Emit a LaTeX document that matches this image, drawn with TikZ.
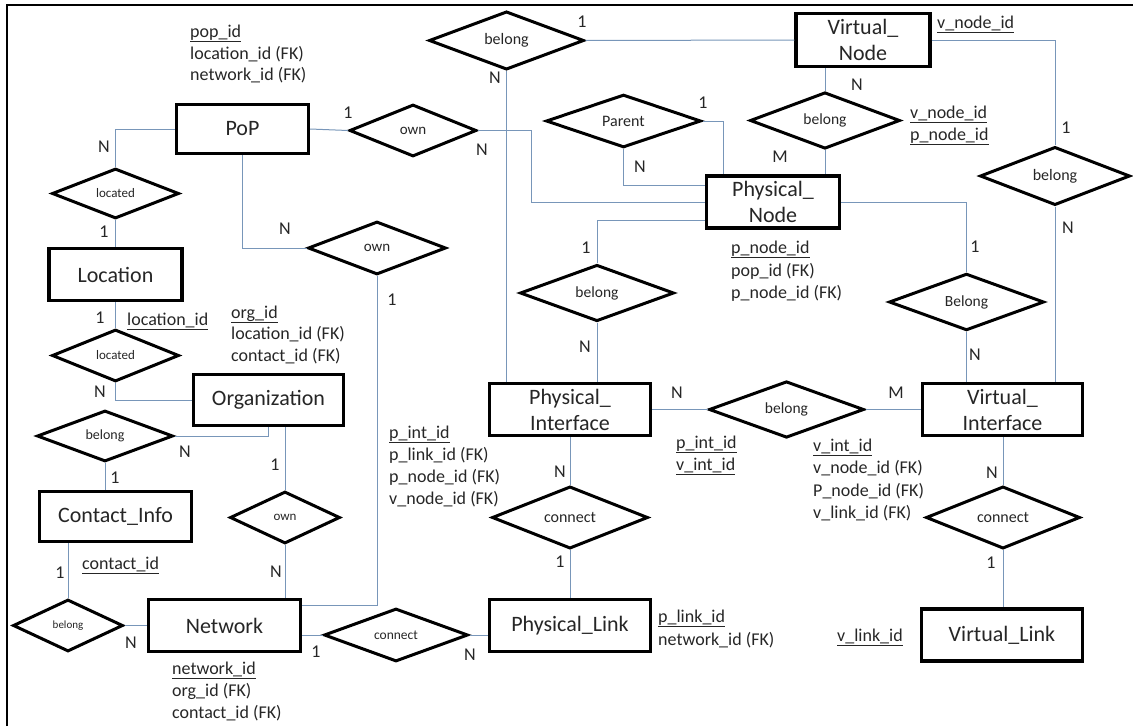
\documentclass[tikz,border=0pt]{standalone}
\usepackage{fontspec}
\setmainfont{Carlito}
\usetikzlibrary{shapes.geometric,calc}
\definecolor{linkc}{RGB}{120,150,185}
\definecolor{txt}{RGB}{38,38,38}
\tikzset{
 ent/.style={draw, line width=3.3pt, fill=white, align=center, inner sep=0pt, font=\fontsize{22}{26}\selectfont, text=txt},
 rel/.style={diamond, aspect=1, draw, line width=3pt, fill=white, inner sep=0pt, text=txt},
 lnk/.style={draw=linkc, line width=1pt},
 card/.style={font=\fontsize{18}{20}\selectfont, text=txt, inner sep=0pt},
 attr/.style={font=\fontsize{18}{22}\selectfont, text=txt, anchor=base west, inner sep=0pt, yshift=-6pt},
}
\begin{document}
\begin{tikzpicture}[x=1pt,y=-1pt]
\useasboundingbox (0,0) rectangle (1133,726);
\draw[line width=1.8pt] (7,726) -- (7,5) -- (1133,5);

% entities
\node[ent, minimum width=132pt, minimum height=49pt] (pop) at (242.5,129) {PoP};
\node[ent, minimum width=133pt, minimum height=52pt] (loc) at (115.5,274.5) {Location};
\node[ent, minimum width=150pt, minimum height=51pt] (org) at (268.5,400) {Organization};
\node[ent, minimum width=152pt, minimum height=50pt] (ci) at (115.5,516.5) {Contact\_Info};
\node[ent, minimum width=152pt, minimum height=52pt] (nw) at (224.5,625.5) {Network};
\node[ent, minimum width=161pt, minimum height=52pt] (pl) at (570,625.5) {Physical\_Link};
\node[ent, minimum width=161pt, minimum height=52pt] (vl) at (1002,635) {Virtual\_Link};
\node[ent, minimum width=161pt, minimum height=52pt] (pi) at (570,409.5) {Physical\_\\Interface};
\node[ent, minimum width=160pt, minimum height=52pt] (vi) at (1002.5,409.5) {Virtual\_\\Interface};
\node[ent, minimum width=133pt, minimum height=52pt] (pn) at (773,202) {Physical\_\\Node};
\node[ent, minimum width=134pt, minimum height=53pt] (vn) at (863,40) {Virtual\_\\Node};

% relationships
\node[rel, minimum width=127pt, minimum height=50pt, font=\fontsize{13}{15}\selectfont] (loc1) at (115.5,193.5) {located};
\node[rel, minimum width=127pt, minimum height=52pt, font=\fontsize{13}{15}\selectfont] (loc2) at (115.5,355.5) {located};
\node[rel, minimum width=136pt, minimum height=51pt, font=\fontsize{14}{16}\selectfont] (belorg) at (105,436) {belong};
\node[rel, minimum width=110pt, minimum height=52pt, font=\fontsize{11}{13}\selectfont] (belci) at (68,625.5) {belong};
\node[rel, minimum width=110pt, minimum height=52pt, font=\fontsize{13}{15}\selectfont] (ownon) at (285,517.5) {own};
\node[rel, minimum width=138pt, minimum height=53pt, font=\fontsize{15}{17}\selectfont] (ownpn) at (377,248) {own};
\node[rel, minimum width=127pt, minimum height=52pt, font=\fontsize{15}{17}\selectfont] (ownpp) at (413,130.5) {own};
\node[rel, minimum width=155pt, minimum height=52pt, font=\fontsize{16}{18}\selectfont] (beltop) at (506.5,40.5) {belong};
\node[rel, minimum width=155pt, minimum height=51pt, font=\fontsize{16}{18}\selectfont] (parent) at (623.5,121) {Parent};
\node[rel, minimum width=150pt, minimum height=52pt, font=\fontsize{15.5}{18}\selectfont] (belvn) at (825,120.5) {belong};
\node[rel, minimum width=150pt, minimum height=51pt, font=\fontsize{16}{18}\selectfont] (belr) at (1055,176) {belong};
\node[rel, minimum width=154pt, minimum height=51pt, font=\fontsize{15.5}{18}\selectfont] (belppi) at (597,293) {belong};
\node[rel, minimum width=155pt, minimum height=51pt, font=\fontsize{15.5}{18}\selectfont] (belcap) at (966.5,302) {Belong};
\node[rel, minimum width=155pt, minimum height=52pt, font=\fontsize{15.5}{18}\selectfont] (belpivi) at (786.5,409.5) {belong};
\node[rel, minimum width=156pt, minimum height=52pt, font=\fontsize{16}{18}\selectfont] (conp) at (570,517.5) {connect};
\node[rel, minimum width=154pt, minimum height=50pt, font=\fontsize{16}{18}\selectfont] (conv) at (1003,517.5) {connect};
\node[rel, minimum width=144pt, minimum height=53pt, font=\fontsize{13.5}{16}\selectfont] (conn) at (396,635) {connect};

\coordinate (nwin) at (302,605);

% connectors
\path[lnk] (pop.west) -| (loc1.north);
\path[lnk] (loc1.south) -- (loc.north);
\path[lnk] (loc.south) -- (loc2.north);
\path[lnk] (loc2.south) |- (org.west);
\path[lnk] (belorg.east) -| (org.south);
\path[lnk] (ownon.north) -- (ownon.north |- org.south);
\path[lnk] (belorg.south) -- (belorg.south |- ci.north);
\path[lnk] (belci.north) -- (belci.north |- ci.south);
\path[lnk] (belci.east) -- (nw.west);
\path[lnk] (ownon.south) -- (ownon.south |- nw.north);
\path[lnk] (ownpn.south) |- (nwin);
\path[lnk] (pop.south) |- (ownpn.west);
\path[lnk] (pop.east) -- (ownpp.west);
\path[lnk] (ownpp.east) -- ++(53,0) |- (pn.west);
\path[lnk] (beltop.east) -- (vn.west);
\path[lnk] (beltop.south) -- (beltop.south |- pi.north);
\path[lnk] (parent.east) -| ($(pn.north west)+(19,0)$);
\path[lnk] (parent.south) |- ($(pn.west)+(0,-17)$);
\path[lnk] (belvn.north) -- (belvn.north |- vn.south);
\path[lnk] (belvn.south) -- (belvn.south |- pn.north);
\path[lnk] (vn.east) -| (belr.north);
\path[lnk] (belr.south) -- (belr.south |- vi.north);
\path[lnk] ($(pn.west)+(0,18)$) -| (belppi.north);
\path[lnk] (belppi.south) -- (belppi.south |- pi.north);
\path[lnk] (pn.east) -| (belcap.north);
\path[lnk] (belcap.south) -- (belcap.south |- vi.north);
\path[lnk] (pi.east) -- (belpivi.west);
\path[lnk] (belpivi.east) -- (vi.west);
\path[lnk] (pi.south) -- (conp.north);
\path[lnk] (conp.south) -- (pl.north);
\path[lnk] (conv.north) -- (conv.north |- vi.south);
\path[lnk] (conv.south) -- (conv.south |- vl.north);
\path[lnk] (nw.east |- conn.west) -- (conn.west);
\path[lnk] (conn.east) -- (conn.east -| pl.west);

% cardinalities
\node[card] (c1) at (104,147) {N};
\node[card] (c2) at (104,232) {1};
\node[card] (c3) at (100,318) {1};
\node[card] (c4) at (100,392) {N};
\node[card] (c5) at (185,452) {N};
\node[card] (c6) at (275,465) {1};
\node[card] (c7) at (115,478) {1};
\node[card] (c8) at (60,573) {1};
\node[card] (c9) at (131,643) {N};
\node[card] (c10) at (276,572) {N};
\node[card] (c11) at (392,300) {1};
\node[card] (c12) at (285,229) {N};
\node[card] (c13) at (348,113) {1};
\node[card] (c14) at (482,150) {N};
\node[card] (c15) at (582,22) {1};
\node[card] (c16) at (495,78) {N};
\node[card] (c17) at (703,103) {1};
\node[card] (c18) at (640,167) {N};
\node[card] (c19) at (857,85) {N};
\node[card] (c20) at (780,157) {M};
\node[card] (c21) at (1066,128) {1};
\node[card] (c22) at (1068,228) {N};
\node[card] (c23) at (586,248) {1};
\node[card] (c24) at (585,347) {N};
\node[card] (c25) at (975,247) {1};
\node[card] (c26) at (975,355) {N};
\node[card] (c27) at (677,393) {N};
\node[card] (c28) at (896,393) {M};
\node[card] (c29) at (560,472) {N};
\node[card] (c30) at (560,562) {1};
\node[card] (c31) at (992,473) {N};
\node[card] (c32) at (991,563) {1};
\node[card] (c33) at (316,652) {1};
\node[card] (c34) at (470,655) {N};

% attributes
\node[attr] (a1) at (190,31) {\underline{pop\_id}};
\node[attr] (a2) at (190,53) {location\_id (FK)};
\node[attr] (a3) at (190,74) {network\_id (FK)};
\node[attr] (a4) at (231,312) {\underline{org\_id}};
\node[attr] (a5) at (231,333) {location\_id (FK)};
\node[attr] (a6) at (231,355) {contact\_id (FK)};
\node[attr] (a7) at (127,319) {\underline{location\_id}};
\node[attr] (a8) at (82,563) {\underline{contact\_id}};
\node[attr] (a9) at (172,668) {\underline{network\_id}};
\node[attr] (a10) at (172,690) {org\_id (FK)};
\node[attr] (a11) at (172,712) {contact\_id (FK)};
\node[attr] (a12) at (389,432) {\underline{p\_int\_id}};
\node[attr] (a13) at (389,454) {p\_link\_id (FK)};
\node[attr] (a14) at (389,476) {p\_node\_id (FK)};
\node[attr] (a15) at (389,498) {v\_node\_id (FK)};
\node[attr] (a16) at (676,442) {\underline{p\_int\_id}};
\node[attr] (a17) at (676,464) {\underline{v\_int\_id}};
\node[attr] (a18) at (813,445) {\underline{v\_int\_id}};
\node[attr] (a19) at (813,467) {v\_node\_id (FK)};
\node[attr] (a20) at (813,490) {P\_node\_id (FK)};
\node[attr] (a21) at (813,512) {v\_link\_id (FK)};
\node[attr] (a22) at (731,247) {\underline{p\_node\_id}};
\node[attr] (a23) at (731,270) {pop\_id (FK)};
\node[attr] (a24) at (731,292) {p\_node\_id (FK)};
\node[attr] (a25) at (937,22) {\underline{v\_node\_id}};
\node[attr] (a26) at (910,112) {\underline{v\_node\_id}};
\node[attr] (a27) at (910,134) {\underline{p\_node\_id}};
\node[attr] (a28) at (658,616) {\underline{p\_link\_id}};
\node[attr] (a29) at (658,639) {network\_id (FK)};
\node[attr] (a30) at (837,635) {\underline{v\_link\_id}};
\end{tikzpicture}
\end{document}
